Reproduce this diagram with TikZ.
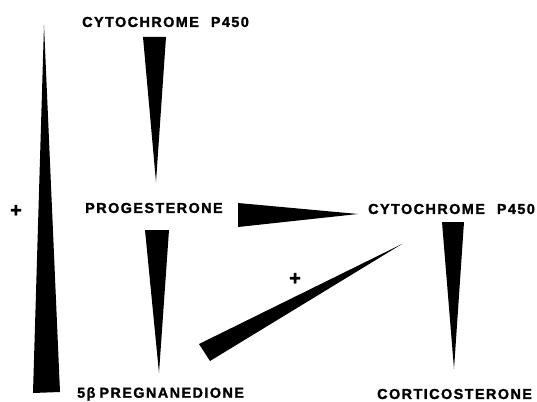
\documentclass[tikz,border=0pt]{standalone}
\usepackage{fontspec}
\setmainfont{Liberation Sans}[LetterSpace=10, BoldFeatures={FakeBold=1.5}]
\begin{document}
\begin{tikzpicture}[x=1pt,y=-1pt,
  lbl/.style={font=\bfseries\fontsize{14.4}{15}\selectfont, inner sep=0pt, anchor=west},
  wedge/.style={fill=black, draw=none},
  plussign/.style={font=\bfseries\fontsize{20}{20}\selectfont, inner sep=0pt}]
\useasboundingbox (0,0) rectangle (537,401);
% labels
\node[lbl] (cyt1) at (82,22) {CYTOCHROME\hspace{12pt}P450};
\node[lbl] (prog) at (85,208) {PROGESTERONE};
\node[lbl] (cyt2) at (368,209) {CYTOCHROME\hspace{12pt}P450};
\node[lbl] (preg) at (77,394) {5β\hspace{4pt}PREGNANEDIONE};
\node[lbl] (cort) at (377,394) {CORTICOSTERONE};
\node[plussign] (p1) at (16,211) {+};
\node[plussign] (p2) at (295,279) {+};
% wedges
\fill[wedge] (44,25) -- (60,392) -- (33,393) -- cycle;
\fill[wedge] (143,37) -- (166,37) -- (156,182) -- cycle;
\fill[wedge] (145,230) -- (169,230) -- (159,373) -- cycle;
\fill[wedge] (238,203) -- (358,214) -- (238,227) -- cycle;
\fill[wedge] (442,222) -- (464,222) -- (454,369) -- cycle;
\fill[wedge] (402,244) -- (210,361) -- (199,344) -- cycle;
\end{tikzpicture}
\end{document}
